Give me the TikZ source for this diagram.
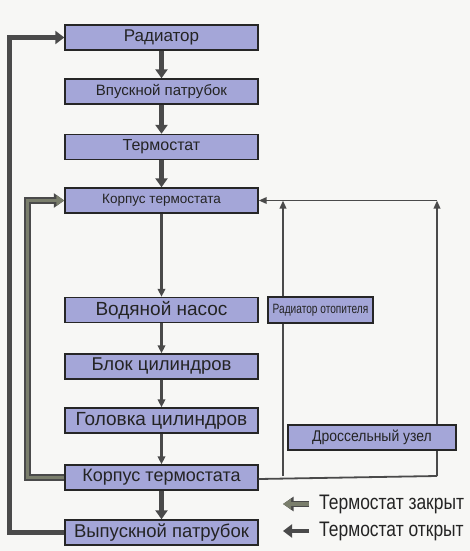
\documentclass[tikz,border=0pt]{standalone}
\usepackage{fontspec}
\setmainfont{Liberation Sans}
\newfontfamily\condfont[FakeStretch=0.75]{Liberation Sans}
\newfontfamily\semifont[FakeStretch=0.9]{Liberation Sans}
\newfontfamily\legfont[FakeStretch=0.83]{Liberation Sans}
\usetikzlibrary{arrows.meta}

\definecolor{boxfill}{RGB}{164,166,216}
\definecolor{linedark}{RGB}{74,74,74}
\definecolor{closedfill}{RGB}{122,126,108}
\definecolor{paper}{RGB}{247,247,245}
\definecolor{inkgray}{RGB}{36,36,36}

\tikzset{
  unit box/.style={draw=black!85, line width=1.4pt, fill=boxfill,
                   text=inkgray, inner sep=0pt, minimum height=25pt},
  main box/.style={unit box, minimum width=193pt},
  flow/.style={draw=linedark, line width=4.2pt,
               -{Triangle[length=9pt,width=12pt]}},
  thin flow/.style={draw=linedark, line width=2.2pt,
                    -{Triangle[length=8pt,width=7.5pt]}},
  pipe/.style={draw=linedark, line width=1.8pt},
  pipe arrow/.style={pipe, -{Triangle[length=8pt,width=6.5pt]}},
  open line/.style={draw=linedark, line width=4.8pt,
                    -{Triangle[length=9pt,width=13pt]}},
  closed line/.style={draw=closedfill, line width=3.4pt,
                      -{Triangle[length=8pt,width=10pt]},
                      preaction={draw=linedark, line width=6.4pt,
                                 -{Triangle[length=10.5pt,width=14pt]}}},
}

\begin{document}
\begin{tikzpicture}[x=1pt, y=-1pt]
\fill[paper] (0,0) rectangle (470,551);
\useasboundingbox (0,0) rectangle (470,551);

% main column
\node[main box, font=\fontsize{17}{17}\selectfont]   (rad)  at (161.5,37.5)  {Радиатор};
\node[main box, font=\fontsize{15}{15}\selectfont]   (vpu)  at (161.5,91.5)  {Впускной патрубок};
\node[main box, font=\fontsize{16}{16}\selectfont]   (term) at (161.5,147)   {Термостат};
\node[main box, font=\fontsize{13.5}{14}\selectfont] (kt)   at (161.5,200.5) {Корпус термостата};
\node[main box, font=\fontsize{19}{19}\selectfont]   (nas)  at (161.5,310)   {Водяной насос};
\node[main box, font=\fontsize{18.5}{19}\selectfont] (blok) at (161.5,366.5) {Блок цилиндров};
\node[main box, font=\fontsize{19}{19}\selectfont]   (gol)  at (161.5,420.5) {Головка цилиндров};
\node[main box, font=\fontsize{18}{18}\selectfont]   (kb)   at (161.5,477.5) {Корпус термостата};
\node[main box, font=\fontsize{18.5}{19}\selectfont] (vyp)  at (161.5,532.5) {Выпускной патрубок};

\foreach \a/\b in {rad/vpu, vpu/term, term/kt, kb/vyp}
    \draw[flow] (\a.south) -- (\b.north);
\foreach \a/\b in {kt/nas, nas/blok, blok/gol, gol/kb}
    \draw[thin flow] (\a.south) -- (\b.north);

% loops on the left
\draw[open line]   (vyp.west) -- ++(-55,0) |- (rad.west);
\draw[closed line] (kb.west)  -- ++(-37,0) |- (kt.west);

% heater and throttle branches
\coordinate (hbot) at (283,476);
\coordinate (htop) at (283,200.5);
\coordinate (dbot) at (437,476);
\coordinate (dtop) at (437,200.5);
\draw[pipe] ([yshift=-1.5pt]kb.east) -- (dbot);
\draw[pipe arrow] (hbot) -- (htop);
\draw[pipe arrow] (dbot) -- (dtop);
\draw[pipe arrow] (dtop) -- (kt.east);

\node[unit box, minimum width=105pt, minimum height=26pt,
      font=\condfont\fontsize{13.5}{14}\selectfont] (heat) at (320.5,310)
    {Радиатор отопителя};
\node[unit box, minimum width=168pt,
      font=\semifont\fontsize{15.5}{16}\selectfont] (thr) at (372,437.5)
    {Дроссельный узел};

% legend
\node[anchor=west, inner sep=0pt, text=inkgray,
      font=\legfont\fontsize{21}{21}\selectfont] (lzak) at (319,504)
    {Термостат закрыт};
\node[anchor=west, inner sep=0pt, text=inkgray,
      font=\legfont\fontsize{21}{21}\selectfont] (lotk) at (319,531)
    {Термостат открыт};
\draw[closed line] ([xshift=-10pt]lzak.west) -- ++(-26,0);
\draw[open line]   ([xshift=-10pt]lotk.west) -- ++(-26,0);
\end{tikzpicture}
\end{document}
